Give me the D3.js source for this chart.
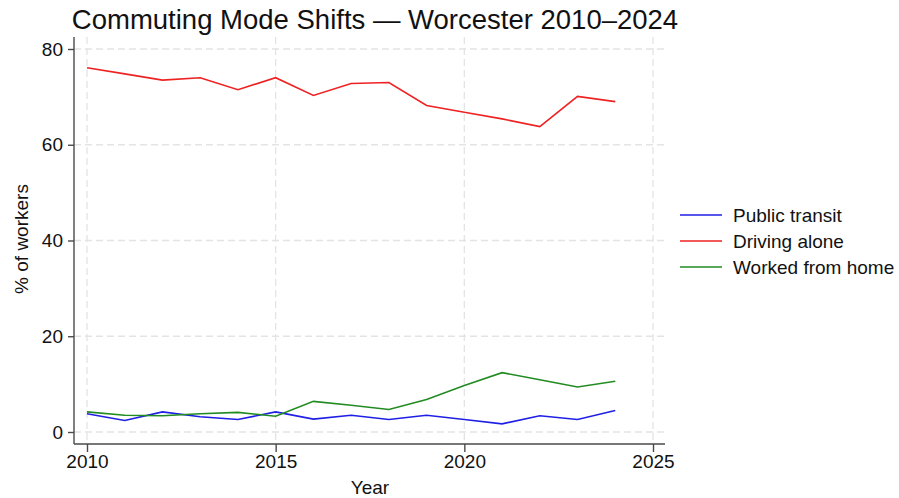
<!DOCTYPE html>
<html>
<head>
<meta charset="utf-8">
<script src="https://cdn.jsdelivr.net/npm/d3@7"></script>
<style>
  body { margin: 0; background: #fff; }
  svg text { font-family: "Liberation Sans", Arial, Helvetica, sans-serif; fill: #111; }
</style>
</head>
<body>
<script>
const years = [2010, 2011, 2012, 2013, 2014, 2015, 2016, 2017, 2018, 2019, 2020, 2021, 2022, 2023, 2024];
const publicTransit = [3.8, 2.4, 4.2, 3.2, 2.6, 4.2, 2.7, 3.5, 2.6, 3.5, 2.6, 1.7, 3.4, 2.6, 4.5];
const drivingAlone = [76.1, 74.8, 73.5, 74.0, 71.5, 74.0, 70.3, 72.8, 73.0, 68.2, 66.8, 65.4, 63.8, 70.1, 69.0];
const workedFromHome = [4.2, 3.5, 3.4, 3.8, 4.1, 3.3, 6.4, 5.6, 4.7, 6.8, 9.7, 12.4, 10.9, 9.4, 10.6];
const seriesNames = ["Public transit", "Driving alone", "Worked from home"];
const seriesColors = ["#1f1fe6", "#ee2222", "#228b22"];
const xTicks = [2010, 2015, 2020, 2025];
const yTicks = [0, 20, 40, 60, 80];

const width = 899, height = 498;
const svg = d3.select("body").append("svg")
    .attr("width", width)
    .attr("height", height);

const x = d3.scaleLinear().domain([2010, 2025]).range([87, 653]);
const y = d3.scaleLinear().domain([0, 80]).range([432, 49]);
const plotLeft = 74, plotRight = 665, plotTop = 37, plotBottom = 444;

// grid
const grid = svg.append("g");
grid.selectAll(".hgrid").data(yTicks).enter().append("line")
    .attr("x1", plotLeft).attr("x2", plotRight)
    .attr("y1", d => y(d)).attr("y2", d => y(d))
    .attr("stroke", "#e4e4e4").attr("stroke-width", 1.3)
    .attr("stroke-dasharray", "7,4");
grid.selectAll(".vgrid").data(xTicks).enter().append("line")
    .attr("y1", plotTop).attr("y2", plotBottom)
    .attr("x1", d => x(d)).attr("x2", d => x(d))
    .attr("stroke", "#e4e4e4").attr("stroke-width", 1.3)
    .attr("stroke-dasharray", "7,4");

// axes
const xAxis = svg.append("g")
    .attr("transform", `translate(0,${plotBottom})`)
    .call(d3.axisBottom(x).tickValues(xTicks).tickFormat(d3.format("d")).tickSize(8).tickSizeOuter(0));
xAxis.select(".domain").attr("d", `M${plotLeft},0H${plotRight}`);
const yAxis = svg.append("g")
    .attr("transform", `translate(${plotLeft},0)`)
    .call(d3.axisLeft(y).tickValues(yTicks).tickSize(6).tickSizeOuter(0));
yAxis.select(".domain").attr("d", `M0,${plotTop}V${plotBottom}`);
[xAxis, yAxis].forEach(a => {
    a.selectAll(".domain, .tick line").attr("stroke", "#4a4a4a").attr("stroke-width", 1.4);
    a.selectAll(".tick text").style("font-size", "19px").attr("fill", "#111");
});
yAxis.selectAll(".tick text").attr("dx", "-2");

// lines
const allSeries = [publicTransit, drivingAlone, workedFromHome];
const line = d3.line().x((d, i) => x(years[i])).y(d => y(d));
svg.selectAll(".series").data(allSeries).enter().append("path")
    .attr("fill", "none")
    .attr("stroke", (d, i) => seriesColors[i])
    .attr("stroke-width", 1.6)
    .attr("d", line);

// titles
svg.append("text")
    .attr("x", 375).attr("y", 29)
    .attr("text-anchor", "middle")
    .style("font-size", "27.5px")
    .text("Commuting Mode Shifts \u2014 Worcester 2010\u20132024");
svg.append("text")
    .attr("x", 370).attr("y", 494)
    .attr("text-anchor", "middle")
    .style("font-size", "19px")
    .text("Year");
svg.append("text")
    .attr("transform", "translate(28,239) rotate(-90)")
    .attr("text-anchor", "middle")
    .style("font-size", "19px")
    .text("% of workers");

// legend
const legend = svg.append("g").attr("transform", "translate(680,215)");
const items = legend.selectAll("g").data(seriesNames).enter().append("g")
    .attr("transform", (d, i) => `translate(0,${i * 26})`);
items.append("line")
    .attr("x1", 0).attr("x2", 42).attr("y1", 0).attr("y2", 0)
    .attr("stroke", (d, i) => seriesColors[i]).attr("stroke-width", 1.6);
items.append("text")
    .attr("x", 53).attr("y", 7)
    .style("font-size", "19px")
    .text(d => d);
</script>
</body>
</html>
